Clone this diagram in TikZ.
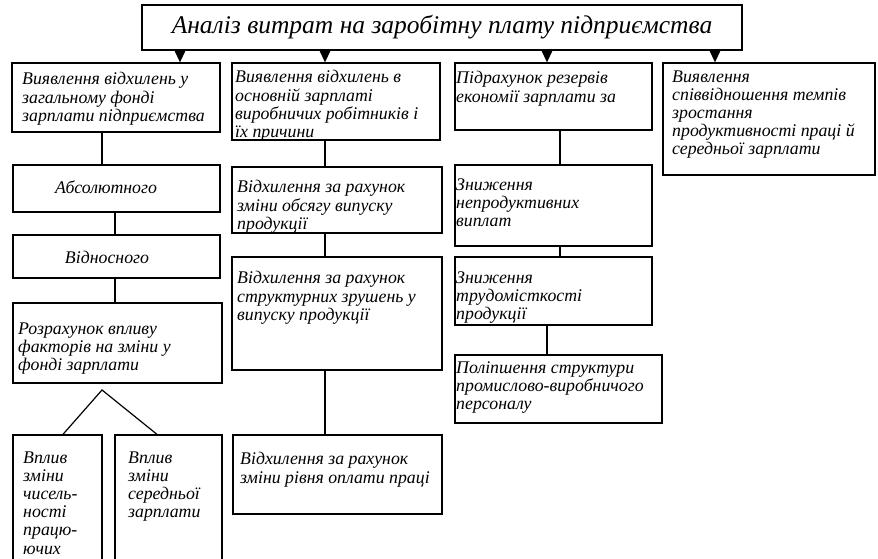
\documentclass[tikz,border=0pt]{standalone}
\usepackage{fontspec}
\setmainfont{Liberation Serif}
\usetikzlibrary{fit,arrows.meta}
\tikzset{
  frame/.style={draw, line width=1.3pt, inner sep=0pt, fit={#1}},
  body/.style={font=\itshape\fontsize{17.8}{18.2}\selectfont, inner sep=0pt},
  txt/.style={body, align=left, anchor=north west, yshift=9.74pt,
    execute at begin node=\strut},
  oneline/.style={body, anchor=base},
  link/.style={line width=1.2pt},
  feed/.style={line width=1.2pt, -{Triangle[width=11pt,length=12pt]}},
}
% box: name, x1, y1, x2, y2
\newcommand{\frm}[5]{\node[frame={(#2,#3)(#4,#5)}] (#1) {};}
\begin{document}
\begin{tikzpicture}[x=1pt,y=-1pt]
\useasboundingbox (0,0) rectangle (878,559);
\clip (0,0) rectangle (878,559);

% title
\frm{top}{142}{5}{742}{50}
\node[font=\itshape\fontsize{25.5}{28}\selectfont, inner sep=0pt] (title) at (top.center) {Аналіз витрат на заробітну плату підприємства};

% first row
\frm{b1}{12}{63}{220}{132}
\frm{b2}{232}{63}{440}{140}
\frm{b3}{455}{63}{652}{130}
\frm{b4}{663}{63}{875}{175}
\node[txt] (t1) at (22,82) {Виявлення відхилень у\\загальному фонді\\зарплати підприємства};
\node[txt] (t2) at (235,80) {Виявлення відхилень в\\основній зарплаті\\виробничих робітників і\\їх причини};
\node[txt] (t3) at (456,81) {Підрахунок резервів\\економії зарплати за};
\node[txt] (t4) at (672,80) {Виявлення\\співвідношення темпів\\зростання\\продуктивності праці й\\середньої зарплати};

\coordinate (xa1) at (180,0);
\coordinate (xa2) at (325,0);
\coordinate (xa3) at (547,0);
\coordinate (xa4) at (715,0);
\draw[feed] (top.south -| xa1) -- (b1.north -| xa1);
\draw[feed] (top.south -| xa2) -- (b2.north -| xa2);
\draw[feed] (top.south -| xa3) -- (b3.north -| xa3);
\draw[feed] (top.south -| xa4) -- (b4.north -| xa4);

% first column
\frm{abs}{13}{165}{220}{212}
\frm{vid}{13}{235}{220}{278}
\frm{roz}{13}{303}{222}{383}
\frm{va}{13}{435}{102}{575}
\frm{vb}{115}{435}{222}{575}
\node[oneline] (tabs) at (106,193) {Абсолютного};
\node[oneline] (tvid) at (107,263) {Відносного};
\node[txt] (troz) at (18,332) {Розрахунок впливу\\факторів на зміни у\\фонді зарплати};
\node[txt] (tva) at (23,461) {Вплив\\зміни\\чисель-\\ності\\працю-\\ючих};
\node[txt] (tvb) at (128,461) {Вплив\\зміни\\середньої\\зарплати};

\coordinate (xc1) at (102,0);
\coordinate (xc1b) at (115,0);
\coordinate (apex) at (102,390);
\coordinate (xla) at (63,0);
\coordinate (xlb) at (157,0);
\draw[link] (b1.south -| xc1) -- (abs.north -| xc1);
\draw[link] (abs.south -| xc1b) -- (vid.north -| xc1b);
\draw[link] (vid.south -| xc1b) -- (roz.north -| xc1b);
\draw[link] (va.north -| xla) -- (apex) -- (vb.north -| xlb);

% second column
\frm{c2a}{232}{167}{442}{233}
\frm{c2b}{232}{257}{442}{370}
\frm{c2c}{233}{435}{442}{514}
\node[txt] (t2a) at (237,190) {Відхилення за рахунок\\зміни обсягу випуску\\продукції};
\node[txt] (t2b) at (237,281) {Відхилення за рахунок\\структурних зрушень у\\випуску продукції};
\node[txt] (t2c) at (240,462) {Відхилення за рахунок\\зміни рівня оплати праці};

\coordinate (xc2) at (325,0);
\draw[link] (b2.south -| xc2) -- (c2a.north -| xc2);
\draw[link] (c2a.south -| xc2) -- (c2b.north -| xc2);
\draw[link] (c2b.south -| xc2) -- (c2c.north -| xc2);

% third column
\frm{c3a}{455}{165}{652}{246}
\frm{c3b}{455}{257}{652}{325}
\frm{c3c}{455}{355}{662}{423}
\node[txt] (t3a) at (456,188) {Зниження\\непродуктивних\\виплат};
\node[txt] (t3b) at (456,281) {Зниження\\трудомісткості\\продукції};
\node[txt] (t3c) at (456,371) {Поліпшення структури\\промислово-виробничого\\персоналу};

\coordinate (xc3) at (560,0);
\coordinate (xc3b) at (547,0);
\draw[link] (b3.south -| xc3) -- (c3a.north -| xc3);
\draw[link] (c3a.south -| xc3) -- (c3b.north -| xc3);
\draw[link] (c3b.south -| xc3b) -- (c3c.north -| xc3b);
\end{tikzpicture}
\end{document}
